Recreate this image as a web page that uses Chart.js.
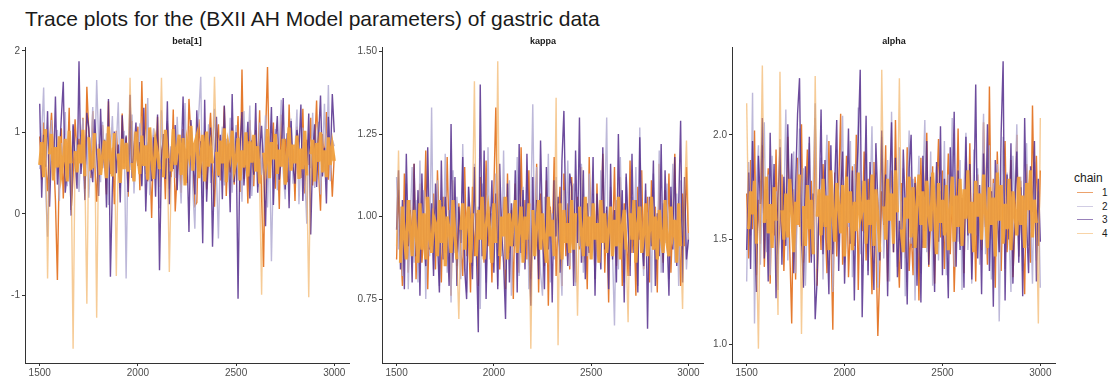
<!DOCTYPE html>
<html>
<head>
<meta charset="utf-8">
<script src="https://cdn.jsdelivr.net/npm/chart.js@4.4.1/dist/chart.umd.min.js"></script>
<style>
  html, body { margin: 0; padding: 0; background: #fff; }
  #wrap { position: relative; width: 1115px; height: 377px; background: #fff; overflow: hidden;
          font-family: "Liberation Sans", Arial, sans-serif; }
  #wrap canvas { position: absolute; top: 0; }
  .title { position: absolute; left: 25px; top: 7px; font-size: 21px; color: #1a1a1a; white-space: nowrap; }
  .ptitle { position: absolute; top: 36px; width: 120px; text-align: center; font-size: 9px; font-weight: bold; color: #1a1a1a; }
  .legend { position: absolute; left: 1074px; top: 171px; color: #1a1a1a; }
  .legend .head { font-size: 12px; margin-bottom: 1px; }
  .legend .row { position: relative; height: 13.5px; }
  .legend .sw { position: absolute; left: 3px; top: 6px; width: 16px; height: 1.4px; }
  .legend .lab { position: absolute; left: 28px; top: 0; font-size: 10px; line-height: 13px; }
</style>
</head>
<body>
<div id="wrap">
  <div class="title">Trace plots for the (BXII AH Model parameters) of gastric data</div>
  <canvas id="p1" width="352" height="377" style="left:0px"></canvas>
  <canvas id="p2" width="356" height="377" style="left:350px"></canvas>
  <canvas id="p3" width="358" height="377" style="left:700px"></canvas>
  <div class="ptitle" id="t1" style="left:127px"></div>
  <div class="ptitle" id="t2" style="left:483px"></div>
  <div class="ptitle" id="t3" style="left:834px"></div>
  <div class="legend" id="legend"></div>
</div>
<script>
// iterations on the x axis (thinned draws)
const ITERATIONS = [
  1500,1510,1520,1530,1540,1550,1560,1570,1580,1590,
  1600,1610,1620,1630,1640,1650,1660,1670,1680,1690,
  1700,1710,1720,1730,1740,1750,1760,1770,1780,1790,
  1800,1810,1820,1830,1840,1850,1860,1870,1880,1890,
  1900,1910,1920,1930,1940,1950,1960,1970,1980,1990,
  2000,2010,2020,2030,2040,2050,2060,2070,2080,2090,
  2100,2110,2120,2130,2140,2150,2160,2170,2180,2190,
  2200,2210,2220,2230,2240,2250,2260,2270,2280,2290,
  2300,2310,2320,2330,2340,2350,2360,2370,2380,2390,
  2400,2410,2420,2430,2440,2450,2460,2470,2480,2490,
  2500,2510,2520,2530,2540,2550,2560,2570,2580,2590,
  2600,2610,2620,2630,2640,2650,2660,2670,2680,2690,
  2700,2710,2720,2730,2740,2750,2760,2770,2780,2790,
  2800,2810,2820,2830,2840,2850,2860,2870,2880,2890,
  2900,2910,2920,2930,2940,2950,2960,2970,2980,2990,
  3000
];

const CHAINS = ['1', '2', '3', '4'];
const PANEL_TITLES = ['beta[1]', 'kappa', 'alpha'];

const X_TICKS = [1500, 2000, 2500, 3000];
const BETA_TICKS = [-1, 0, 1, 2];
const BETA_TICK_LABELS = ['-1', '0', '1', '2'];
const KAPPA_TICKS = [0.75, 1.00, 1.25, 1.50];
const KAPPA_TICK_LABELS = ['0.75', '1.00', '1.25', '1.50'];
const ALPHA_TICKS = [1.0, 1.5, 2.0];
const ALPHA_TICK_LABELS = ['1.0', '1.5', '2.0'];

// dense central band of each trace (where the strokes pile up)
const BETA_BAND = [0.35, 1.08];
const KAPPA_BAND = [0.85, 1.07];
const ALPHA_BAND = [1.41, 1.84];

// ----- beta[1] -----
const BETA_1 = [
  0.95,0.42,1.12,0.61,0.28,0.88,1.24,0.74,0.17,-0.81,
  0.66,1.05,0.19,0.83,0.52,1.30,0.05,0.47,1.16,0.71,
  0.92,0.58,1.18,0.31,1.56,0.99,0.44,1.26,0.63,0.15,
  0.86,0.53,1.09,0.70,0.24,1.38,0.49,0.81,0.12,1.02,
  0.65,0.37,1.23,0.57,0.94,0.21,0.79,1.14,0.46,0.68,
  1.07,0.29,1.63,0.60,1.35,0.40,0.73,-0.05,0.97,0.55,
  1.19,0.33,0.76,0.90,0.18,1.11,0.62,0.45,1.28,0.03,
  0.50,0.84,0.26,1.04,0.67,0.38,1.41,0.93,0.59,0.10,
  0.14,1.16,0.71,0.48,1.01,0.30,0.87,1.24,0.56,0.09,
  0.78,1.10,0.41,0.64,1.32,0.22,0.82,0.51,1.06,0.36,
  0.72,1.20,0.27,1.77,0.43,0.89,0.13,1.15,0.68,0.34,
  1.03,0.58,1.27,0.20,-0.65,0.96,1.80,0.47,0.74,1.12,
  0.31,0.85,0.06,1.22,0.61,0.92,0.39,1.34,0.55,0.80,
  0.16,1.07,0.70,0.44,1.29,0.25,0.91,0.60,1.18,0.35,
  0.83,1.39,0.52,0.04,0.98,0.66,1.25,0.42,0.77,0.21,
  0.72
];
const BETA_2 = [
  0.55,0.98,1.55,0.30,-0.28,0.78,1.15,0.43,0.69,1.03,
  0.16,0.87,0.60,1.25,0.34,0.74,0.05,1.08,0.52,0.93,
  0.27,0.81,1.17,0.45,0.96,0.20,0.68,1.31,0.58,1.64,
  0.89,0.39,1.13,0.62,0.99,0.11,0.75,1.20,0.47,0.84,
  1.37,0.32,0.70,1.02,-0.79,0.86,0.54,1.22,0.25,0.79,
  0.63,1.11,0.36,0.93,0.49,1.42,0.23,0.80,1.05,0.42,
  0.71,0.07,1.27,0.57,0.88,1.14,0.31,0.76,0.98,0.44,
  1.19,0.61,0.13,0.90,1.36,0.46,0.73,1.00,0.28,-0.18,
  0.85,1.23,1.68,0.19,0.95,0.67,1.10,0.38,0.82,1.29,
  0.50,-0.30,0.77,1.07,0.35,0.92,0.60,1.18,0.26,0.83,
  1.09,0.41,0.94,0.15,1.26,0.57,0.80,1.33,0.22,0.69,
  0.97,0.33,1.12,0.48,0.74,1.21,0.08,0.88,-0.58,0.62,
  1.04,0.29,0.85,1.40,0.51,0.18,0.93,0.66,1.17,0.37,
  0.79,1.28,0.12,0.70,1.06,0.45,-0.12,0.99,0.56,1.24,
  0.32,0.87,1.13,0.24,0.75,1.35,0.53,1.58,0.40,0.91,
  0.83
];
const BETA_3 = [
  1.35,0.20,0.97,0.58,1.26,0.09,0.81,0.47,1.44,0.36,
  0.72,1.18,1.62,0.26,0.54,0.93,-0.02,1.10,0.65,0.31,
  1.87,0.49,0.86,0.17,1.24,1.05,0.60,0.39,1.16,0.74,
  0.22,1.29,0.56,0.91,0.08,1.41,-0.77,0.33,1.01,0.50,
  0.85,0.14,1.21,0.62,0.96,0.27,1.46,0.44,0.78,1.12,
  0.59,0.88,0.34,1.30,0.03,0.75,1.03,0.40,0.94,0.21,
  1.22,-0.69,0.66,0.98,0.43,1.38,0.12,0.83,0.55,1.09,
  0.29,0.92,0.63,1.44,0.37,0.80,-0.22,1.15,0.70,0.24,
  1.27,0.52,0.89,-0.36,1.40,0.15,0.73,1.06,-0.40,0.61,
  1.19,0.45,0.97,0.18,1.33,0.57,0.86,0.02,1.47,0.39,
  1.00,-1.04,0.82,1.25,0.35,0.71,1.13,0.19,0.90,0.48,
  1.36,0.26,0.77,1.08,0.53,-0.15,0.95,0.64,1.31,0.11,
  0.84,1.20,0.42,0.68,1.42,0.30,0.99,0.07,1.14,0.58,
  0.37,1.03,0.79,1.34,0.16,0.88,0.50,1.23,-0.25,0.72,
  1.10,0.33,0.94,1.45,0.46,0.81,0.13,1.19,0.61,1.47,
  1.00
];
const BETA_4 = [
  0.60,0.88,0.45,1.04,-0.79,0.73,0.98,0.41,0.82,0.57,
  0.95,0.50,0.66,0.92,0.40,1.02,0.62,-1.65,0.77,0.51,
  0.85,0.62,1.03,0.46,-1.10,0.94,0.56,0.58,0.99,-1.27,
  0.80,0.48,0.71,0.90,0.44,1.07,0.69,0.46,0.99,-0.76,
  0.74,0.38,0.92,0.55,0.87,0.52,1.67,0.63,0.40,1.01,
  0.70,0.49,0.96,0.59,0.84,0.42,1.06,0.66,0.43,0.88,
  0.74,0.55,1.67,0.45,1.03,0.68,-0.71,0.52,1.04,0.60,
  0.79,0.97,0.48,0.93,0.35,0.86,0.72,1.08,0.53,0.86,
  0.95,0.44,0.67,0.97,0.40,1.01,0.58,0.81,0.62,1.68,
  0.76,0.47,0.90,0.62,1.05,0.39,0.84,0.71,1.02,0.54,
  0.65,0.93,0.41,0.78,0.57,1.00,0.46,0.89,0.63,0.97,
  0.52,0.83,0.37,-0.99,0.75,0.60,1.04,0.44,0.88,0.67,
  0.98,0.49,0.79,0.58,0.92,0.36,0.71,1.06,0.53,0.85,
  0.62,0.96,0.43,0.80,0.55,1.02,0.47,-1.02,0.73,0.91,
  0.40,0.87,0.64,1.00,0.51,0.78,0.45,0.94,0.60,0.83,
  0.65
];

// ----- kappa -----
const KAPPA_1 = [
  0.87,1.08,0.92,0.79,1.13,0.95,0.83,1.05,0.90,1.16,
  0.81,0.99,1.10,0.86,0.94,1.20,0.78,1.02,0.91,1.07,
  0.84,1.14,0.97,0.80,1.06,0.89,1.18,0.93,0.76,1.11,
  0.98,0.85,1.04,0.90,0.82,1.15,0.88,0.95,0.77,1.09,
  0.88,1.01,0.79,1.12,0.94,0.86,1.17,0.91,1.03,0.80,
  1.08,1.33,0.93,0.84,0.99,1.06,0.78,1.13,0.89,1.02,
  0.75,1.10,0.96,0.83,1.21,0.92,1.05,0.87,1.14,0.81,
  1.00,0.90,1.16,0.77,1.07,0.94,0.85,1.11,0.73,1.03,
  0.92,1.18,0.82,0.98,1.09,0.79,1.13,0.88,1.04,0.84,
  1.12,0.95,0.80,1.06,0.90,1.15,0.86,1.01,0.78,1.18,
  0.93,1.05,0.81,1.10,0.87,0.97,1.19,0.83,1.02,0.74,
  1.08,0.91,1.15,0.85,0.99,1.12,0.79,1.04,0.94,0.82,
  1.17,0.89,1.01,0.76,1.09,0.93,1.14,0.84,0.98,1.06,
  0.80,1.11,0.90,1.03,0.77,1.16,0.95,0.86,1.08,0.92,
  1.13,0.83,1.00,1.19,0.88,0.96,0.79,1.07,0.91,1.15,
  0.93
];
const KAPPA_2 = [
  1.12,0.90,1.03,0.82,0.96,1.10,0.78,0.99,1.15,0.86,
  1.05,0.80,1.17,0.93,1.08,0.75,1.00,0.88,1.33,0.84,
  0.97,1.11,0.79,1.04,0.91,1.19,0.83,1.02,0.74,1.14,
  0.89,1.06,0.95,0.81,1.22,0.92,0.77,1.09,0.98,0.85,
  1.16,0.90,1.03,0.72,1.10,0.94,0.80,1.21,0.87,1.01,
  0.93,1.13,0.79,1.07,0.88,1.20,0.84,0.99,1.11,0.76,
  1.04,0.91,1.18,0.82,0.97,1.09,0.86,1.14,0.78,1.02,
  1.34,0.89,1.15,0.95,0.83,0.76,1.06,0.92,1.19,0.80,
  1.01,0.87,1.12,0.94,0.90,0.76,1.08,0.94,1.17,0.85,
  0.98,1.10,0.79,1.05,0.91,1.16,0.83,1.00,0.88,1.13,
  0.95,1.07,0.81,0.99,0.86,1.14,0.92,1.03,1.30,0.78,
  1.09,0.89,0.67,1.05,0.84,1.18,0.93,0.80,1.12,0.97,
  0.85,1.06,0.91,1.15,0.79,1.27,0.95,0.82,1.08,0.90,
  1.02,0.77,1.13,0.94,0.87,1.20,0.83,1.04,0.92,1.10,
  0.81,0.98,1.16,0.86,1.07,0.79,1.11,0.90,1.01,0.84,
  0.95
];
const KAPPA_3 = [
  0.96,1.14,0.84,1.05,0.78,1.19,0.91,1.02,0.80,1.16,
  0.88,1.08,0.76,1.13,0.94,0.85,1.21,0.90,1.04,0.82,
  1.10,0.93,0.77,1.17,0.87,1.06,0.95,0.79,1.28,0.86,
  1.12,0.79,1.03,0.92,1.18,0.84,0.75,1.09,0.97,0.81,
  1.15,0.90,0.65,1.40,0.88,1.20,0.75,1.01,0.94,1.11,
  0.83,1.07,0.78,1.16,0.95,0.86,0.69,1.10,0.80,1.04,
  0.91,1.14,0.77,1.22,0.89,1.08,0.84,1.19,0.93,0.73,
  1.12,0.87,1.05,0.81,1.23,0.96,0.78,1.15,0.90,1.02,
  0.74,1.11,0.94,1.06,0.83,1.17,1.32,0.99,0.85,1.13,
  1.09,0.79,1.20,0.92,1.30,0.86,1.14,0.81,1.04,0.89,
  0.93,1.18,0.76,1.07,0.95,0.84,1.21,0.90,1.03,0.78,
  1.16,0.87,1.02,0.80,1.25,0.92,1.08,0.74,1.13,0.97,
  0.82,1.19,0.89,1.05,0.77,1.24,0.94,0.85,1.10,0.66,
  1.06,0.91,1.17,0.79,1.01,0.88,1.22,0.83,1.14,0.95,
  0.76,1.09,0.90,1.18,0.85,1.03,1.29,0.80,1.12,0.87,
  0.93
];
const KAPPA_4 = [
  0.91,1.20,0.86,1.03,0.94,0.87,1.05,0.97,0.88,1.02,
  0.95,0.86,1.04,0.90,1.01,0.87,1.06,0.93,0.89,1.00,
  0.98,0.88,1.05,0.92,1.03,0.85,1.00,0.96,0.89,1.05,
  0.94,0.87,0.69,0.96,1.04,0.90,0.99,1.03,0.86,1.01,
  1.41,0.88,1.02,0.93,1.06,0.87,0.97,1.02,0.95,0.86,
  1.04,0.92,1.47,0.88,1.00,0.94,1.06,0.87,1.01,0.91,
  0.99,1.05,0.89,0.96,1.03,0.86,1.00,0.93,1.04,0.60,
  1.02,0.88,0.97,1.05,0.90,1.01,0.93,0.86,1.06,0.94,
  0.99,0.88,1.36,0.61,1.04,0.87,1.02,0.92,0.98,0.89,
  1.05,0.90,1.01,0.70,1.03,0.95,0.88,1.06,0.91,1.00,
  0.87,1.04,0.93,0.98,0.86,1.05,0.92,1.01,0.89,0.96,
  1.03,0.88,0.99,0.91,1.06,0.87,0.97,1.02,0.90,0.68,
  1.01,0.93,1.05,0.86,0.98,1.03,0.89,0.95,1.04,0.88,
  0.96,1.06,0.90,1.00,0.87,1.02,0.94,0.89,1.05,0.92,
  0.88,1.03,0.95,0.99,0.86,1.04,0.91,0.72,1.06,1.23,
  0.97
];

// ----- alpha -----
const ALPHA_1 = [
  1.72,1.41,1.88,1.55,2.02,1.33,1.69,1.48,1.95,1.37,
  1.63,1.84,1.29,1.76,1.52,1.93,1.43,1.58,1.81,1.35,
  1.67,1.99,1.46,1.10,1.74,1.31,1.89,1.56,2.05,1.39,
  1.66,1.93,1.39,1.78,1.50,2.08,1.28,1.71,1.45,1.86,
  1.60,1.34,1.97,1.53,1.07,1.82,1.42,1.75,2.10,1.38,
  1.64,1.90,1.32,1.57,1.85,1.47,2.00,1.26,1.70,1.54,
  1.92,1.40,1.79,1.61,1.24,1.87,1.49,1.04,1.36,1.73,
  1.58,1.95,1.30,1.68,1.83,1.44,2.07,1.52,1.27,1.77,
  1.62,1.41,1.94,1.35,1.55,1.33,1.80,1.65,1.21,1.89,
  1.46,1.73,2.01,1.37,1.60,1.85,1.29,1.70,1.98,1.51,
  1.83,1.36,1.64,1.91,1.43,1.76,1.25,1.58,2.03,1.48,
  1.69,1.34,1.87,1.54,1.96,1.40,1.72,1.30,1.81,1.59,
  1.45,2.06,1.66,1.38,2.23,1.50,1.79,1.27,1.92,1.61,
  1.35,1.74,1.97,1.44,1.63,1.88,1.32,1.57,2.00,1.42,
  1.78,1.53,1.24,1.86,1.67,1.39,2.14,1.60,1.90,1.47,
  1.83
];
const ALPHA_2 = [
  1.30,1.87,1.52,2.20,1.10,1.76,1.95,1.38,1.68,2.06,
  1.44,1.81,1.33,1.90,1.59,1.73,1.26,1.98,1.50,1.66,
  2.12,1.40,1.79,1.55,1.92,1.34,1.70,2.03,1.47,1.84,
  1.28,1.61,1.96,1.42,1.77,2.15,1.36,1.65,1.89,1.31,
  1.74,2.00,1.45,1.83,1.25,1.67,1.93,1.49,1.80,2.09,
  1.39,1.72,1.56,1.97,1.32,1.86,1.62,2.13,1.43,1.78,
  1.53,1.91,1.35,1.69,2.04,1.46,1.82,1.27,1.75,1.99,
  1.41,1.64,1.88,1.30,2.11,1.57,1.71,1.37,1.94,1.50,
  1.84,1.23,1.67,2.02,1.48,1.79,1.21,1.63,1.90,1.34,
  1.76,2.07,1.44,1.58,1.92,1.28,1.69,1.85,1.40,1.73,
  1.55,1.97,1.33,1.81,1.62,2.08,1.37,1.70,1.49,1.88,
  1.26,1.75,2.01,1.45,1.66,1.29,1.93,1.52,1.84,1.38,
  1.71,2.10,1.43,1.60,1.95,1.31,1.77,1.48,1.86,1.11,
  1.64,1.99,1.36,1.82,1.54,1.25,1.90,1.68,2.05,1.42,
  1.80,1.35,1.73,1.96,1.47,1.62,1.29,1.87,1.40,1.73,
  1.27
];
const ALPHA_3 = [
  1.45,1.82,1.36,1.97,1.58,1.25,1.90,1.67,2.08,1.41,
  1.74,1.30,2.01,1.53,1.86,1.22,1.69,1.94,1.38,1.80,
  1.47,2.05,1.63,1.91,1.34,1.76,2.10,2.27,1.50,1.27,
  1.85,1.60,1.99,1.39,1.72,1.12,1.31,1.66,2.12,1.43,
  1.88,1.55,1.24,1.95,1.43,1.78,2.07,1.35,1.70,1.92,
  1.29,1.64,2.03,1.48,1.83,1.21,1.75,1.98,2.31,1.13,
  1.61,2.09,1.33,1.87,1.52,1.26,1.96,1.68,1.40,2.02,
  1.57,1.81,1.23,1.73,2.06,1.44,1.89,1.32,1.59,1.36,
  1.93,1.65,1.19,1.84,2.00,1.46,1.77,1.28,1.71,1.20,
  1.90,1.54,1.97,1.38,1.80,1.62,1.25,1.87,1.49,2.04,
  1.33,1.79,1.58,1.22,1.94,1.66,2.11,1.37,1.83,1.45,
  1.70,1.27,1.99,1.52,1.86,1.31,1.64,2.24,1.41,1.76,
  1.24,1.91,1.56,2.05,1.35,1.73,1.18,1.88,1.62,1.44,
  2.01,2.35,1.21,1.81,1.50,1.96,1.29,1.68,1.92,1.39,
  1.75,1.23,2.08,1.57,1.34,1.85,1.63,1.97,1.30,1.79,
  1.49
];
const ALPHA_4 = [
  2.15,1.55,1.73,1.62,1.78,1.48,0.98,1.70,2.33,1.58,
  1.80,1.53,1.67,1.46,1.75,1.59,1.14,2.30,1.64,1.50,
  1.72,1.51,1.79,1.63,1.44,1.68,1.57,1.81,1.05,1.66,
  1.47,1.76,1.55,1.69,1.43,2.28,1.61,1.74,1.52,1.79,
  1.56,1.71,1.45,1.83,1.62,1.49,1.77,1.66,1.53,1.76,
  1.42,1.80,1.58,1.73,1.45,1.68,1.54,1.82,1.60,1.64,
  1.78,1.48,1.69,1.57,1.81,1.47,1.74,1.61,1.44,2.31,
  1.66,1.50,1.79,1.59,1.72,1.48,1.83,1.63,2.27,1.55,
  1.44,1.70,1.60,1.80,1.51,1.75,1.46,1.67,1.81,1.57,
  1.73,1.46,1.78,1.62,1.54,1.82,1.65,1.43,1.77,1.58,
  1.69,1.52,1.76,1.45,1.64,1.80,1.49,1.71,1.56,1.79,
  1.47,1.74,1.60,1.83,1.53,1.68,1.44,1.78,1.61,1.72,
  1.50,1.81,1.63,1.46,1.75,1.57,1.70,1.42,1.82,1.59,
  1.76,1.48,1.67,1.55,1.79,1.45,1.73,1.62,1.52,1.80,
  1.57,1.71,1.46,1.77,1.64,1.83,1.51,1.69,1.58,1.10,
  2.08
];

// Cores das cadeias (PuOr)
const COLORS = {
  chain: ['rgba(224, 100, 10, 0.85)', 'rgba(178, 171, 210, 0.85)', 'rgba(84, 45, 140, 0.85)', 'rgba(240, 168, 80, 0.6)'],
  core: 'rgba(240, 160, 62, 0.95)',
  legend: ['rgba(224, 100, 10, 0.6)', 'rgba(178, 171, 210, 0.6)', 'rgba(84, 45, 140, 0.6)', 'rgba(240, 160, 60, 0.45)'],
  axis: '#333333',
  text: '#4d4d4d',
};
const LINE_WIDTH = 1.4;
const CORE_WIDTH = 3.2;

function toPoints(values) {
  return ITERATIONS.map((it, i) => ({ x: it, y: values[i] }));
}

function tracePanel(canvasId, chains, band, yTicks, yLabels, yWidth) {
  const ctx = document.getElementById(canvasId).getContext('2d');

  // expansão de 5% como no ggplot
  const all = chains.flat();
  const lo = Math.min(...all), hi = Math.max(...all);
  const pad = (hi - lo) * 0.05;

  const inBand = (v) => v >= band[0] && v <= band[1];
  const isCore = (s) => inBand(s.p0.parsed.y) && inBand(s.p1.parsed.y);
  const last = chains.length - 1;

  const datasets = chains.map((vals, i) => ({
    label: CHAINS[i],
    data: toPoints(vals),
    borderColor: COLORS.chain[i],
    borderWidth: LINE_WIDTH,
    pointRadius: 0,
    tension: 0,
    fill: false,
    order: chains.length - i, // cadeia 4 por cima
    // a última cadeia cobre a faixa central densa
    segment: i === last ? {
      borderColor: (s) => (isCore(s) ? COLORS.core : COLORS.chain[i]),
      borderWidth: (s) => (isCore(s) ? CORE_WIDTH : LINE_WIDTH),
    } : undefined,
  }));

  const axisGrid = {
    display: true,
    drawOnChartArea: false,
    drawTicks: true,
    tickLength: 3,
    color: COLORS.axis,
    lineWidth: 1,
  };

  return new Chart(ctx, {
    type: 'line',
    data: { datasets },
    options: {
      responsive: false,
      animation: false,
      devicePixelRatio: 1,
      layout: { padding: { top: 47, right: 3, left: 0, bottom: 0 } },
      plugins: { legend: { display: false }, tooltip: { enabled: false } },
      scales: {
        x: {
          type: 'linear',
          min: 1425,
          max: 3075,
          afterBuildTicks: (s) => { s.ticks = X_TICKS.map(v => ({ value: v })); },
          afterFit: (s) => { s.height = 14; },
          grid: axisGrid,
          border: { display: true, color: COLORS.axis, width: 1 },
          ticks: {
            color: COLORS.text,
            font: { family: "'Liberation Sans', Arial, sans-serif", size: 10 },
            padding: 1,
            maxRotation: 0,
            autoSkip: false,
            callback: (v) => String(v),
          },
        },
        y: {
          type: 'linear',
          min: lo - pad,
          max: hi + pad,
          afterBuildTicks: (s) => { s.ticks = yTicks.map(v => ({ value: v })); },
          afterFit: (s) => { s.width = yWidth; },
          grid: axisGrid,
          border: { display: true, color: COLORS.axis, width: 1 },
          ticks: {
            color: COLORS.text,
            font: { family: "'Liberation Sans', Arial, sans-serif", size: 10 },
            padding: 2,
            autoSkip: false,
            callback: (v) => {
              const k = yTicks.findIndex(t => Math.abs(t - v) < 1e-9);
              return k >= 0 ? yLabels[k] : '';
            },
          },
        },
      },
    },
  });
}

tracePanel('p1', [BETA_1, BETA_2, BETA_3, BETA_4], BETA_BAND, BETA_TICKS, BETA_TICK_LABELS, 25);
tracePanel('p2', [KAPPA_1, KAPPA_2, KAPPA_3, KAPPA_4], KAPPA_BAND, KAPPA_TICKS, KAPPA_TICK_LABELS, 32);
tracePanel('p3', [ALPHA_1, ALPHA_2, ALPHA_3, ALPHA_4], ALPHA_BAND, ALPHA_TICKS, ALPHA_TICK_LABELS, 32);

['t1', 't2', 't3'].forEach((id, i) => { document.getElementById(id).textContent = PANEL_TITLES[i]; });

// legenda
const legend = document.getElementById('legend');
let html = '<div class="head">chain</div>';
CHAINS.forEach((c, i) => {
  html += `<div class="row"><div class="sw" style="background:${COLORS.legend[i]}"></div><div class="lab">${c}</div></div>`;
});
legend.innerHTML = html;
</script>
</body>
</html>
